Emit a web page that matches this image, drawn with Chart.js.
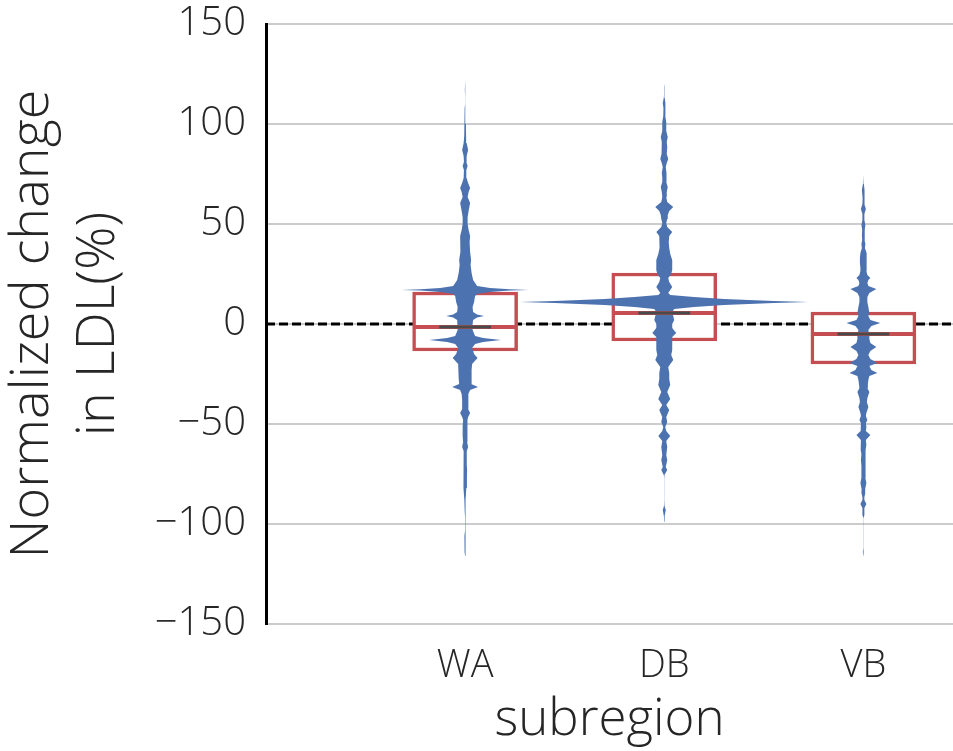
<!DOCTYPE html>
<html>
<head>
<meta charset="utf-8">
<script src="https://cdn.jsdelivr.net/npm/chart.js@4.4.0/dist/chart.umd.min.js"></script>
<style>
  html, body { margin: 0; padding: 0; background: #fff; }
  #wrap { width: 953px; height: 751px; }
</style>
</head>
<body>
<div id="wrap"><canvas id="ldlChart"></canvas></div>
<script>
// LDL change by subregion: violin outlines with box plots on top

const regions = ['WA', 'DB', 'VB'];
const yTicks = [-150, -100, -50, 0, 50, 100, 150];

// box plot stats per subregion
const q1 = [-13.5, -8.5, -20];
const q3 = [16, 25.5, 6];
const medians = [-1.5, 5.5, -5];

// violin outlines, [value, density] from bottom to top
const waProfile = [
    [-116, 0], [-114, 0.5], [-110, 0.6], [-106, 0.7], [-103, 0], [-97, 0], [-94, 0.4],
    [-88, 0.8], [-82, 1.2], [-76, 1.8], [-73, 2], [-70, 1.6], [-66.5, 1.8], [-63.5, 1.5],
    [-61.5, 3], [-59, 2], [-56, 2.5], [-51, 2.5], [-48, 2], [-46.5, 3], [-44.5, 5],
    [-42.5, 3], [-38, 3], [-35, 3.5], [-33, 5], [-31.5, 13], [-30, 6], [-27, 6.5],
    [-23, 6.5], [-20, 7], [-17, 12.5], [-15, 9], [-12, 7], [-10, 10], [-9, 18], [-8, 36],
    [-7, 18], [-6, 10], [-3, 7.5], [0, 7.5], [2, 8], [3.3, 12], [4, 19], [4.7, 12],
    [6, 8], [8.5, 7.5], [11, 9], [14, 10], [15, 12], [16, 25], [16.7, 45], [17, 64],
    [17.4, 45], [18, 25], [19, 12], [22, 8], [25.5, 6.5], [29.5, 5.5], [32, 6], [36, 5],
    [41, 4.5], [44, 5], [47, 3.5], [50, 2.5], [53.5, 2.5], [56.5, 3.5], [60.5, 5],
    [63.5, 2.5], [66, 3.5], [68, 5], [70.5, 3], [73, 1.5], [77, 1.2], [79, 2.5], [81, 1.2],
    [84, 1.5], [87, 3], [90.5, 1.5], [94, 1], [100, 0.8], [108, 0.5], [110, 0], [114, 0],
    [117, 0.3], [122, 0]
];

const dbProfile = [
    [-99, 0], [-96, 0.4], [-93, 1.5], [-91, 0.3], [-88, 0], [-77, 0], [-75.5, 0.5],
    [-73, 3], [-71.5, 1.5], [-68, 3], [-65.5, 2], [-61.5, 3], [-58.5, 2], [-56, 6],
    [-53.5, 2], [-51.5, 1], [-49, 3], [-46.5, 2], [-43, 5], [-40.5, 2], [-37.5, 6],
    [-34, 3], [-30.5, 6], [-27.5, 5], [-24.5, 5], [-21.5, 4], [-18, 9], [-15.5, 7],
    [-13, 8], [-9, 8], [-6.5, 8], [-4.5, 12], [-2, 8], [0, 8], [2, 10], [4, 9], [6, 8],
    [7.5, 10], [8.5, 30], [9.5, 60], [10.5, 110], [11, 145], [11.5, 110], [12.5, 60],
    [13.5, 30], [14.5, 6], [15.5, 4], [18.5, 8], [21, 5], [23, 4], [25, 7], [27, 8],
    [30, 8], [32, 8], [35, 6], [38, 5], [41, 4.5], [44, 5], [46, 8], [48.5, 3], [50.5, 2],
    [52.5, 3], [54.5, 3.5], [56.5, 5], [58.5, 9], [61, 3], [63.5, 2], [66, 2.5],
    [68.5, 3.5], [71, 2], [73.5, 2], [75.5, 2.5], [78.5, 1.5], [80.5, 2.5], [82.5, 4],
    [85, 2.5], [88.5, 3], [91, 2.5], [93.5, 3.5], [96.5, 2], [99, 2], [101, 2], [104, 1],
    [108, 0.8], [110.5, 1.5], [113, 0.5], [115, 0.2], [118.5, 0.3], [120, 0]
];

const vbProfile = [
    [-116, 0], [-114, 0.6], [-112, 0], [-97, 0], [-95.5, 1], [-92, 1], [-90, 3], [-88, 1],
    [-86.5, 1], [-84.5, 2], [-82.5, 1.8], [-79.5, 3], [-77, 2], [-74.5, 2], [-71, 2],
    [-68, 2.5], [-65, 2], [-63, 2.5], [-60.5, 3], [-58, 2.5], [-55.5, 7], [-53.5, 2.5],
    [-51.5, 3], [-49.5, 2.5], [-48, 4], [-46, 2.5], [-44.5, 3], [-41.5, 5], [-39, 3.5],
    [-37, 4], [-34, 6], [-32, 4], [-30, 4.5], [-28, 5], [-26, 6], [-24.5, 14], [-23, 8],
    [-21, 6], [-19.5, 14], [-17.5, 7], [-15.5, 5], [-13.5, 7], [-11.5, 13], [-9.5, 7],
    [-7.5, 6], [-5.5, 6], [-3, 5], [-1, 8], [0.5, 17], [2, 7], [4, 5], [5.5, 6], [8.5, 5],
    [11, 4], [13.5, 4], [15.5, 6], [17.5, 13], [19, 5], [20.5, 4], [22, 5], [23, 7],
    [24.5, 4], [26.5, 3], [28, 3], [30.5, 3.5], [33, 3.5], [35.5, 3], [38, 1.5], [40, 2],
    [42, 1.2], [44.5, 1.5], [47, 1.2], [49.5, 2], [52, 1], [55, 1], [57.5, 2.5], [60, 1],
    [63, 0.8], [67, 1.5], [70, 0.5], [74.5, 0]
];

const profiles = [waProfile, dbProfile, vbProfile];

const BLUE = '#4c72b0';
const RED = '#c44e52';
const DARK = '#4a4a4a';
const TEXT = '#262626';
const FONT = "'Open Sans', 'DejaVu Sans', sans-serif";

const DENSITY_TO_X = 0.005;   // density units -> category widths
const BOX_HALF = 0.255;
const MEDIAN_HALF = 0.13;
const X_MIN = -1;
const X_MAX = 2.45;

// closed outline: up the right side, back down the left side
function violinPoints(profile, center) {
    const right = profile.map(([v, d]) => ({ x: center + d * DENSITY_TO_X, y: v }));
    const left = profile.slice().reverse().map(([v, d]) => ({ x: center - d * DENSITY_TO_X, y: v }));
    return right.concat(left);
}

function fmtTick(value) {
    return value < 0 ? '\u2212' + Math.abs(value) : String(value);
}

const datasets = [];

// dashed reference line at zero
datasets.push({
    type: 'line',
    data: [{ x: X_MIN, y: 0 }, { x: X_MAX, y: 0 }],
    borderColor: '#000',
    borderWidth: 3,
    borderDash: [9, 4],
    pointRadius: 0,
    order: 5
});

// interquartile boxes
datasets.push({
    type: 'bar',
    data: regions.map((r, i) => ({ x: i, y: [q1[i], q3[i]] })),
    backgroundColor: '#ffffff',
    borderColor: RED,
    borderWidth: 3.5,
    borderSkipped: false,
    barThickness: 105,
    order: 4
});

profiles.forEach((profile, i) => {
    datasets.push({
        type: 'line',
        data: violinPoints(profile, i),
        fill: 'shape',
        backgroundColor: BLUE,
        borderColor: 'rgba(0,0,0,0)',
        borderWidth: 1,
        pointRadius: 0,
        tension: 0,
        order: 3
    });
});

medians.forEach((m, i) => {
    datasets.push({
        type: 'line',
        data: [{ x: i - BOX_HALF, y: m }, { x: i + BOX_HALF, y: m }],
        borderColor: RED,
        borderWidth: 4,
        pointRadius: 0,
        order: 2
    });
    datasets.push({
        type: 'line',
        data: [{ x: i - MEDIAN_HALF, y: m }, { x: i + MEDIAN_HALF, y: m }],
        borderColor: DARK,
        borderWidth: 3,
        pointRadius: 0,
        order: 1
    });
});

new Chart(document.getElementById('ldlChart'), {
    type: 'line',
    data: { datasets: datasets },
    options: {
        responsive: true,
        maintainAspectRatio: false,
        animation: false,
        layout: { padding: { top: 24, right: 0, bottom: 0, left: 0 } },
        plugins: {
            legend: { display: false },
            tooltip: { enabled: false }
        },
        scales: {
            x: {
                type: 'linear',
                min: X_MIN,
                max: X_MAX,
                offset: false,
                afterBuildTicks: axis => { axis.ticks = regions.map((r, i) => ({ value: i })); },
                afterFit: scale => { scale.height = 127; },
                grid: { display: false },
                border: { display: false },
                ticks: {
                    padding: 11,
                    autoSkip: false,
                    maxRotation: 0,
                    color: TEXT,
                    font: { family: FONT, size: 38, weight: 300 },
                    callback: v => regions[v] ?? ''
                },
                title: {
                    display: true,
                    text: 'subregion',
                    color: TEXT,
                    font: { family: FONT, size: 51, weight: 300, lineHeight: 1.2 },
                    padding: 0
                }
            },
            y: {
                min: -150,
                max: 150,
                afterBuildTicks: axis => { axis.ticks = yTicks.map(v => ({ value: v })); },
                afterFit: scale => {
                    scale.width = 266;
                    scale.paddingTop = 0;
                },
                grid: { color: '#cccccc', lineWidth: 2, drawTicks: false },
                border: { display: true, color: '#000', width: 3 },
                ticks: {
                    padding: 20,
                    color: TEXT,
                    font: { family: FONT, size: 40, weight: 300 },
                    callback: fmtTick
                },
                title: {
                    display: true,
                    text: ['Normalized change', 'in LDL(%)'],
                    color: TEXT,
                    font: { family: FONT, size: 54, weight: 300, lineHeight: 1.22 },
                    padding: { top: 0 }
                }
            }
        }
    }
});
</script>
</body>
</html>
